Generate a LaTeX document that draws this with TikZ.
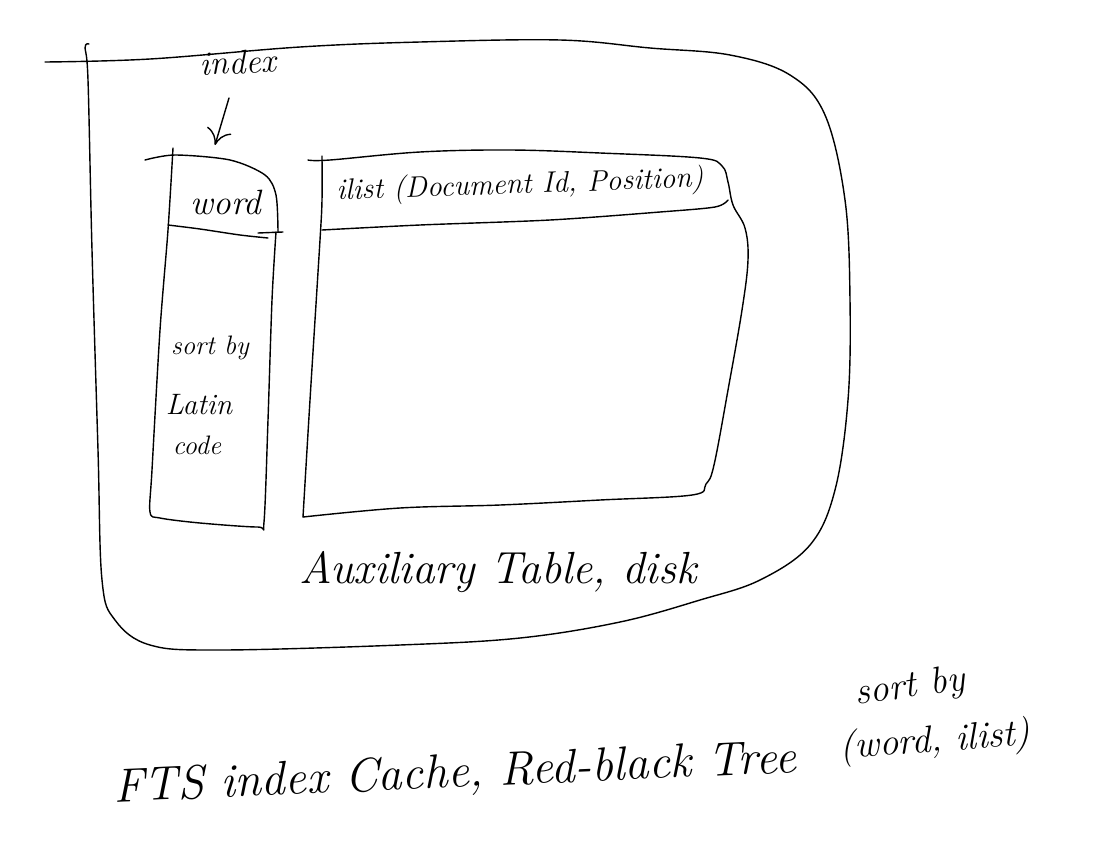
\documentclass[tikz,border=0pt]{standalone}
\usepackage{tikz}
\usetikzlibrary{arrows.meta}
\tikzset{
  sketch/.style={line width=1pt, line cap=round, line join=round},
  hand/.style={font=\itshape, inner sep=1pt},
}
\newcommand{\fs}[1]{\fontsize{#1}{#1}\selectfont}

\begin{document}
\begin{tikzpicture}[x=0.025cm, y=-0.025cm]
\useasboundingbox (0,0) rectangle (1116,842);

% outer cache
\draw[sketch] plot[smooth, tension=0.6] coordinates {(45,62) (150,59) (300,47) (420,42) (560,40) (650,48) (730,55) (790,75) (825,115) (845,200) (850,300) (848,400) (835,490) (810,545) (760,580) (700,600) (620,622) (520,638) (400,645) (220,650) (150,645) (115,620) (102,580) (98,450) (92,250) (88,80) (85,48) (89,44)};

% word column
\draw[sketch] plot[smooth] coordinates {(145,160) (175,155) (230,160) (265,175) (276,195) (278,232)};
\draw[sketch] plot[smooth] coordinates {(173,148) (168,230) (160,330) (152,470) (150,512) (160,518) (200,523) (258,527) (264,522) (268,420) (272,300) (276,232)};
\draw[sketch] plot[smooth] coordinates {(168,225) (200,229) (240,235) (268,238)};
\draw[sketch] (258,233) -- (283,232);

% ilist table
\draw[sketch] plot[smooth, tension=0.6] coordinates {(308,160) (330,160) (420,152) (510,150) (600,153) (700,158) (722,166) (728,182) (733,205) (745,228) (748,260) (742,310) (728,390) (714,465) (706,484) (692,495) (600,500) (500,505) (400,508) (303,517)};
\draw[sketch] plot[smooth] coordinates {(322,156) (322,200) (320,240) (310,400) (303,517)};
\draw[sketch] plot[smooth] coordinates {(322,230) (420,225) (550,220) (660,212) (715,207) (728,200)};

% labels
\node[hand, rotate=3] (indexlbl) at (238,62) {\fs{24}index};
\coordinate (wordtop) at (215,145);
\draw[sketch, -{To[length=11pt, width=18pt]}] (229,98) -- (wordtop);
\node[hand] (word) at (226,202) {\fs{25}word};
\node[hand, rotate=2] (ilist) at (520,186) {\fs{21}ilist (Document Id, Position)};
\node[hand] (sortby) at (210,348) {\fs{19}sort by};
\node[hand] (latin) at (199,405) {\fs{21}Latin};
\node[hand] (code) at (197,445) {\fs{19}code};
\node[hand] (aux) at (498,572) {\fs{32}Auxiliary Table, disk};
\node[hand, rotate=2.5] (fts) at (455,775) {\fs{34}FTS index Cache, Red-black Tree};
\node[hand, rotate=8] (sortby2) at (910,688) {\fs{27}sort by};
\node[hand, rotate=4] (pair) at (935,742) {\fs{27}(word, ilist)};
\end{tikzpicture}
\end{document}
